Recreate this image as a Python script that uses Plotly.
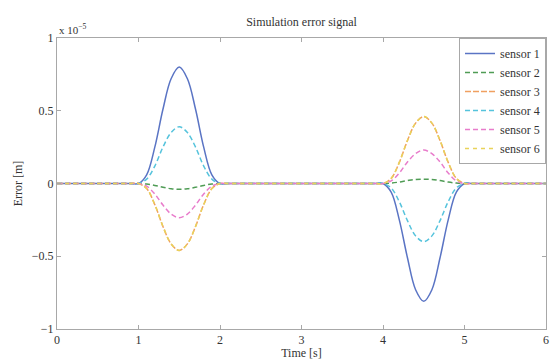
import plotly.graph_objects as go

# time samples [s]
time_s = [0.0, 0.5, 0.9, 1.0, 1.1, 1.2, 1.3, 1.4, 1.5, 1.6, 1.7, 1.8, 1.9, 2.0, 2.1, 2.5, 3.0, 3.5,
          3.9, 4.0, 4.1, 4.2, 4.3, 4.4, 4.5, 4.6, 4.7, 4.8, 4.9, 5.0, 5.1, 5.5, 6.0]

# error values in units of 1e-5 m
sensor_1 = [0, 0, 0, 0, 0.06, 0.25, 0.51, 0.72, 0.80, 0.72, 0.51, 0.25, 0.06, 0, 0, 0, 0, 0,
            0, 0, -0.06, -0.25, -0.51, -0.73, -0.81, -0.73, -0.51, -0.25, -0.06, 0, 0, 0, 0]
sensor_2 = [0, 0, 0, 0, -0.004, -0.013, -0.026, -0.036, -0.04, -0.036, -0.026, -0.013, -0.004, 0, 0, 0, 0, 0,
            0, 0, 0.003, 0.01, 0.02, 0.028, 0.03, 0.028, 0.02, 0.01, 0.003, 0, 0, 0, 0]
sensor_3 = [0, 0, 0, 0, -0.035, -0.145, -0.295, -0.415, -0.46, -0.415, -0.295, -0.145, -0.035, 0, 0, 0, 0, 0,
            0, 0, 0.035, 0.145, 0.295, 0.415, 0.46, 0.415, 0.295, 0.145, 0.035, 0, 0, 0, 0]
sensor_4 = [0, 0, 0, 0, 0.03, 0.12, 0.25, 0.35, 0.39, 0.35, 0.25, 0.12, 0.03, 0, 0, 0, 0, 0,
            0, 0, -0.03, -0.125, -0.255, -0.36, -0.40, -0.36, -0.255, -0.125, -0.03, 0, 0, 0, 0]
sensor_5 = [0, 0, 0, 0, -0.018, -0.072, -0.148, -0.21, -0.235, -0.21, -0.148, -0.072, -0.018, 0, 0, 0, 0, 0,
            0, 0, 0.018, 0.072, 0.148, 0.205, 0.23, 0.205, 0.148, 0.072, 0.018, 0, 0, 0, 0]
sensor_6 = [0, 0, 0, 0, -0.035, -0.145, -0.295, -0.415, -0.46, -0.415, -0.295, -0.145, -0.035, 0, 0, 0, 0, 0,
            0, 0, 0.035, 0.145, 0.295, 0.415, 0.46, 0.415, 0.295, 0.145, 0.035, 0, 0, 0, 0]

series_names = ["sensor 1", "sensor 2", "sensor 3", "sensor 4", "sensor 5", "sensor 6"]
series_values = [sensor_1, sensor_2, sensor_3, sensor_4, sensor_5, sensor_6]
series_colors = ["#5a74c4", "#4f9c55", "#f0a060", "#55c3dc", "#e87ccb", "#e9d35a"]
series_dash = ["solid", "5px,3px", "6px,2px", "5px,3px", "5px,3px", "4px,4px"]

x_ticks = [0, 1, 2, 3, 4, 5, 6]
y_ticks = [-1, -0.5, 0, 0.5, 1]
y_tick_labels = ["\u22121", "\u22120.5", "0", "0.5", "1"]

FONT = "Liberation Serif, Times New Roman, serif"
TXT = "#333333"

fig = go.Figure()
for name, vals, col, dash in zip(series_names, series_values, series_colors, series_dash):
    fig.add_trace(go.Scatter(
        x=time_s, y=vals, name=name, mode="lines",
        line=dict(color=col, width=1.5, dash=dash, shape="spline", smoothing=1.0),
    ))

axis_common = dict(
    showline=True, linecolor="#a8a8a8", linewidth=1, mirror="ticks",
    ticks="inside", ticklen=4, tickcolor="#a8a8a8",
    showgrid=False, zeroline=False,
    tickfont=dict(family=FONT, size=12, color=TXT),
)

fig.update_layout(
    width=553, height=360,
    margin=dict(l=57, r=4, t=38, b=28),
    paper_bgcolor="white", plot_bgcolor="white",
    font=dict(family=FONT, color=TXT, size=12),
    title=dict(text="Simulation error signal", x=0.5, xref="paper",
               y=0.94, yref="container", yanchor="middle",
               font=dict(family=FONT, size=12, color=TXT)),
    xaxis=dict(range=[0, 6], tickvals=x_ticks,
               title=dict(text="Time [s]", standoff=0, font=dict(family=FONT, size=12, color=TXT)),
               **axis_common),
    yaxis=dict(range=[-1, 1], tickvals=y_ticks, ticktext=y_tick_labels,
               title=dict(text="Error [m]", standoff=6, font=dict(family=FONT, size=12, color=TXT)),
               **axis_common),
    legend=dict(x=1, y=1, xanchor="right", yanchor="top",
                bgcolor="white", bordercolor="#a8a8a8", borderwidth=1,
                font=dict(family=FONT, size=12, color=TXT),
                tracegroupgap=0, itemwidth=30),
    showlegend=True,
)

fig.add_annotation(
    text="x 10<sup>\u22125</sup>", xref="paper", yref="paper", x=0.0, y=1.0,
    xanchor="left", yanchor="bottom", showarrow=False,
    font=dict(family=FONT, size=11, color=TXT),
)

fig.write_html("out.html",
               config={"displayModeBar": False},
               post_script="document.body.style.margin='0';document.body.style.overflow='hidden';")
